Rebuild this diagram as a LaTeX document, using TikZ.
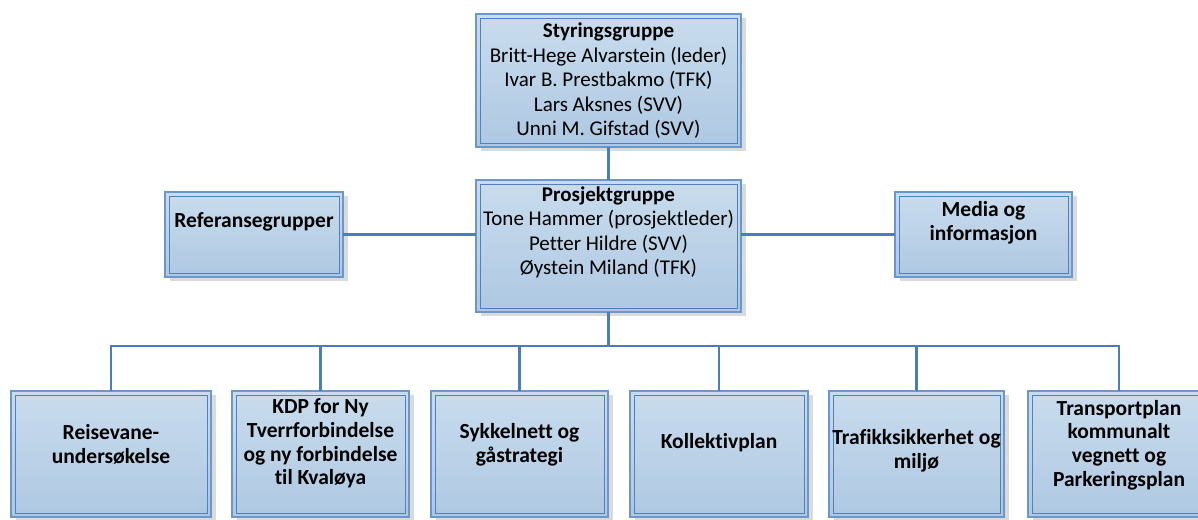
\documentclass[tikz,border=0pt]{standalone}
\usepackage{fontspec}
\setmainfont{Carlito}[Ligatures={NoCommon}]
\usetikzlibrary{shadows,calc}
\definecolor{boxtop}{HTML}{C9DCED}
\definecolor{boxbot}{HTML}{AEC8E2}
\definecolor{bordout}{HTML}{6C98C9}
\definecolor{bordin}{HTML}{4F81BD}
\definecolor{conncol}{HTML}{4A7EBB}
\definecolor{shadowcol}{HTML}{DADADA}
\tikzset{
  orgbox/.style={rectangle, inner sep=0pt, outer sep=0pt, draw=bordout, line width=1.2pt,
    top color=boxtop, bottom color=boxbot,
    general shadow={fill=shadowcol, shadow xshift=5pt, shadow yshift=-4pt}},
  innerborder/.style={draw=bordin, line width=0.9pt},
  conn/.style={draw=conncol, line width=2.4pt},
  txt/.style={align=center, inner sep=0pt, font=\fontsize{21}{24.5}\selectfont},
  btxt/.style={txt, font=\fontsize{21.5}{23.8}\selectfont\bfseries}
}
\begin{document}
\begin{tikzpicture}[x=1pt,y=-1pt]
\useasboundingbox (0,0) rectangle (1198,519);
% boxes
\node[orgbox, minimum width=265pt, minimum height=133pt] (styr) at (608.5,80.5) {};
\node[orgbox, minimum width=265pt, minimum height=132pt] (pros) at (608.5,246) {};
\node[orgbox, minimum width=178pt, minimum height=85pt] (ref) at (254,234.5) {};
\node[orgbox, minimum width=177pt, minimum height=85pt] (media) at (983.5,234.5) {};
\node[orgbox, minimum width=200pt, minimum height=126pt] (b1) at (111,454) {};
\node[orgbox, minimum width=177pt, minimum height=126pt] (b2) at (320.5,454) {};
\node[orgbox, minimum width=177pt, minimum height=126pt] (b3) at (519.5,454) {};
\node[orgbox, minimum width=178pt, minimum height=126pt] (b4) at (719,454) {};
\node[orgbox, minimum width=175pt, minimum height=126pt] (b5) at (916.5,454) {};
\node[orgbox, minimum width=182pt, minimum height=126pt] (b6) at (1119,454) {};
\foreach \n in {styr,pros,ref,media,b1,b2,b3,b4,b5,b6}
  \draw[innerborder] ([shift={(4pt,-4pt)}]\n.north west) rectangle ([shift={(-4pt,4pt)}]\n.south east);
% texts
\node[txt] (styrtxt) at (608.5,81) {\textbf{Styringsgruppe}\\Britt-Hege Alvarstein (leder)\\Ivar B. Prestbakmo (TFK)\\Lars Aksnes (SVV)\\Unni M. Gifstad (SVV)};
\node[txt] (prostxt) at (608.5,232.5) {\textbf{Prosjektgruppe}\\Tone Hammer (prosjektleder)\\Petter Hildre (SVV)\\Øystein Miland (TFK)};
\node[btxt] (reftxt) at (254,222) {Referansegrupper};
\node[btxt] (mediatxt) at (983.5,223) {Media og\\informasjon};
\node[btxt] (b1txt) at (111,444.5) {Reisevane-\\undersøkelse};
\node[btxt] (b2txt) at (320.5,443.5) {KDP for Ny\\Tverrforbindelse\\og ny forbindelse\\til Kvaløya};
\node[btxt] (b3txt) at (519.5,445) {Sykkelnett og\\gåstrategi};
\node[btxt] (b4txt) at (719,443) {Kollektivplan};
\node[btxt] (b5txt) at (916.5,451) {Trafikksikkerhet og\\miljø};
\node[btxt] (b6txt) at (1119,445) {Transportplan\\kommunalt\\vegnett og\\Parkeringsplan};
% connectors
\draw[conn] (styr.south) -- (pros.north);
\draw[conn] (ref.east) -- (ref.east -| pros.west);
\draw[conn] (pros.east |- media.west) -- (media.west);
\coordinate (bus) at (608.5,346);
\draw[conn] (pros.south) -- (bus);
\foreach \b in {b1,b2,b3,b4,b5,b6}
  \draw[conn] (bus) -| (\b.north);
\end{tikzpicture}
\end{document}
